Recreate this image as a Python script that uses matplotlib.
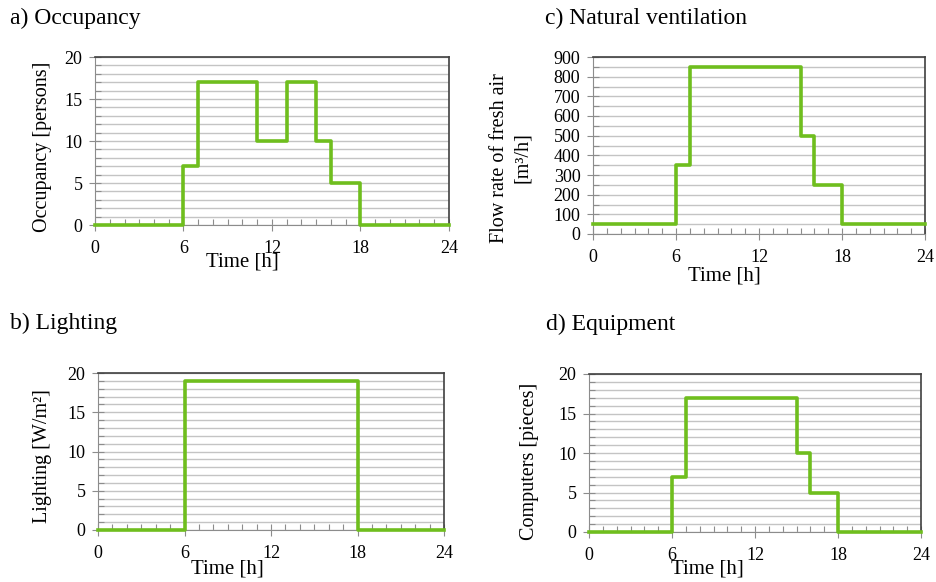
import matplotlib
matplotlib.use('Agg')
from matplotlib import pyplot as plt
from matplotlib.ticker import MultipleLocator

plt.rcParams['font.family'] = ['Liberation Serif', 'DejaVu Serif']

# hourly schedules, value holds from hour h to h+1
hours = list(range(25))
occupancy = [0, 0, 0, 0, 0, 0, 7, 17, 17, 17, 17, 10, 10, 17, 17, 10, 5, 5, 0, 0, 0, 0, 0, 0]
ventilation = [50, 50, 50, 50, 50, 50, 350, 850, 850, 850, 850, 850, 850, 850, 850, 500, 250, 250,
               50, 50, 50, 50, 50, 50]
lighting = [0, 0, 0, 0, 0, 0, 19, 19, 19, 19, 19, 19, 19, 19, 19, 19, 19, 19, 0, 0, 0, 0, 0, 0]
equipment = [0, 0, 0, 0, 0, 0, 7, 17, 17, 17, 17, 17, 17, 17, 17, 10, 5, 5, 0, 0, 0, 0, 0, 0]

time_ticks = [0, 6, 12, 18, 24]

GREEN = '#6fbe1e'
W, H = 936, 582


def px_box(left, top, right, bottom):
    # pixel box -> figure fraction [l, b, w, h]
    return [left / W, 1 - bottom / H, (right - left) / W, (bottom - top) / H]


def draw_panel(fig, box, values, ymax, ystep, ygrid, ylabel, ylabel_xy, xlabel_x, xlabel_y):
    ax = fig.add_axes(box)
    ax.step(hours, values + [values[-1]], where='post', color=GREEN, lw=2.6,
            clip_on=False, zorder=5)

    ax.set_xlim(0, 24)
    ax.set_ylim(0, ymax)
    ax.set_xticks(time_ticks)
    ax.xaxis.set_minor_locator(MultipleLocator(1))
    ax.yaxis.set_major_locator(MultipleLocator(ystep))
    ax.yaxis.set_minor_locator(MultipleLocator(ygrid))

    ax.grid(True, which='both', axis='y', color='#c4c4c4', lw=1.0)
    ax.set_axisbelow(True)

    ax.tick_params(which='major', direction='inout', length=8, width=0.8,
                   color='#8c8c8c', labelsize=13, pad=5)
    ax.tick_params(axis='x', which='major', pad=7)
    ax.tick_params(which='minor', direction='in', length=4, width=0.8, color='#8c8c8c')

    for side in ['left', 'bottom']:
        ax.spines[side].set_color('#8c8c8c')
    for side in ['top', 'right']:
        ax.spines[side].set_color('#404040')
        ax.spines[side].set_linewidth(1.2)

    ax.set_ylabel(ylabel, fontsize=14.5, linespacing=1.3)
    ax.yaxis.label.set_va('center')
    ax.yaxis.set_label_coords(*ylabel_xy)
    ax.set_xlabel('Time [h]', fontsize=15)
    ax.xaxis.label.set_va('center')
    ax.xaxis.set_label_coords(xlabel_x, xlabel_y)
    return ax


fig = plt.figure(figsize=(9.36, 5.82), dpi=100)

draw_panel(fig, px_box(95, 57, 449, 225), occupancy, 20, 5, 1,
           'Occupancy [persons]', (-0.147, 0.464), 0.415, -0.22)
draw_panel(fig, px_box(593, 57, 925, 234), ventilation, 900, 100, 50,
           'Flow rate of fresh air\n[m³/h]', (-0.247, 0.43), 0.395, -0.235)
draw_panel(fig, px_box(98, 373, 444, 530), lighting, 20, 5, 1,
           'Lighting [W/m²]', (-0.159, 0.471), 0.373, -0.25)
draw_panel(fig, px_box(589, 374, 921, 532), equipment, 20, 5, 1,
           'Computers [pieces]', (-0.178, 0.449), 0.358, -0.237)

titles = [('a) Occupancy', 10, 18), ('c) Natural ventilation', 545, 18),
          ('b) Lighting', 10, 323), ('d) Equipment', 546, 324)]
for text, x, y in titles:
    fig.text(x / W, 1 - y / H, text, fontsize=17, ha='left', va='center')

fig.savefig('out.png', dpi=100)
